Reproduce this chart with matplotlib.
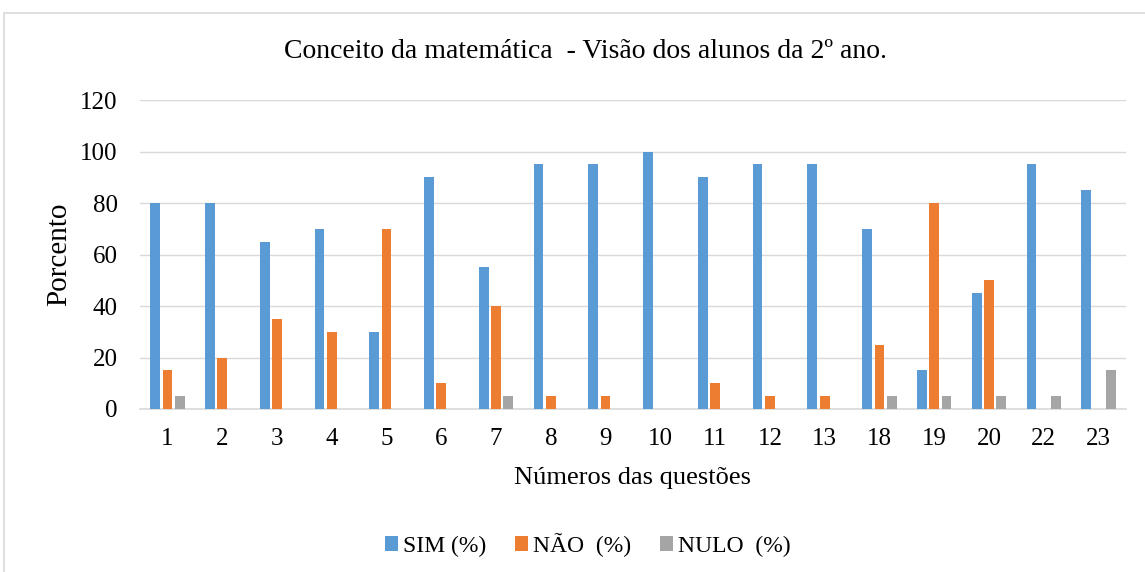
import matplotlib
matplotlib.use("Agg")
import matplotlib.pyplot as plt
import numpy as np
from matplotlib.patches import Rectangle

questoes = ["1", "2", "3", "4", "5", "6", "7", "8", "9", "10", "11", "12", "13", "18", "19", "20", "22", "23"]
sim = [80, 80, 65, 70, 30, 90, 55, 95, 95, 100, 90, 95, 95, 70, 15, 45, 95, 85]
nao = [15, 20, 35, 30, 70, 10, 40, 5, 5, 0, 10, 5, 5, 25, 80, 50, 0, 0]
nulo = [5, 0, 0, 0, 0, 0, 5, 0, 0, 0, 0, 0, 0, 5, 5, 5, 5, 15]

plt.rcParams['font.family'] = ['Liberation Serif', 'DejaVu Serif']

fig = plt.figure(figsize=(11.45, 5.72), dpi=100)
ax = fig.add_axes([0.1223, 0.285, 0.861, 0.54])

# light frame around the chart area
fig.patches.append(Rectangle((4 / 1145, -0.05), 1.1, 0.977 + 0.05, transform=fig.transFigure,
                             fill=False, edgecolor="#D9D9D9", linewidth=1.2))

x = np.arange(len(questoes))
w = 0.178
off = 0.225
ax.bar(x - off, sim, w, color="#5B9BD5", label="SIM (%)", zorder=3)
ax.bar(x, nao, w, color="#ED7D31", label="NÃO  (%)", zorder=3)
ax.bar(x + off, nulo, w, color="#A5A5A5", label="NULO  (%)", zorder=3)

ax.set_xlim(-0.5, len(questoes) - 0.5)
ax.set_ylim(0, 120)
ax.set_yticks(range(0, 121, 20))
ax.set_xticks(x)
ax.set_xticklabels(questoes)
ax.yaxis.grid(True, color="#D9D9D9", linewidth=1, zorder=0)
ax.set_axisbelow(True)
for s in ["top", "right", "left"]:
    ax.spines[s].set_visible(False)
ax.spines["bottom"].set_color("#D9D9D9")
ax.spines["bottom"].set_linewidth(1.2)
ax.tick_params(axis="both", length=0, labelsize=18, colors="black")
ax.tick_params(axis="x", pad=14)
ax.tick_params(axis="y", pad=16)

fig.text(585 / 1145, 1 - 52 / 572, "Conceito da matemática  - Visão dos alunos da 2º ano.",
         fontsize=20, ha="center", va="center")
ax.set_ylabel("Porcento", fontsize=21)
ax.yaxis.set_label_coords(-(140 - 72) / (0.861 * 1145), 0.5)
ax.set_xlabel("Números das questões", fontsize=19, labelpad=12)

fig.legend(loc="center", bbox_to_anchor=(588 / 1145, 1 - 545 / 572), ncol=3, frameon=False,
           fontsize=17, handlelength=0.55, handleheight=0.55, handletextpad=0.21, columnspacing=1.23)

fig.savefig("out.png", dpi=100, facecolor="white")
